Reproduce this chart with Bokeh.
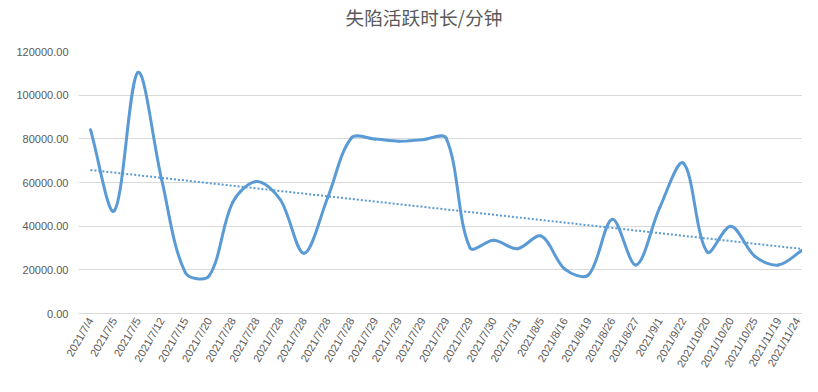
import numpy as np
from bokeh.plotting import figure
from bokeh.models import Range1d, FixedTicker, NumeralTickFormatter, Title
from bokeh.embed import file_html
from bokeh.resources import INLINE

dates = ["2021/7/4", "2021/7/5", "2021/7/5", "2021/7/12", "2021/7/15", "2021/7/20",
         "2021/7/28", "2021/7/28", "2021/7/28", "2021/7/28", "2021/7/28", "2021/7/28",
         "2021/7/29", "2021/7/29", "2021/7/29", "2021/7/29", "2021/7/29",
         "2021/7/30", "2021/7/31", "2021/8/5", "2021/8/16", "2021/8/19", "2021/8/26",
         "2021/8/27", "2021/9/1", "2021/9/22", "2021/10/20", "2021/10/20", "2021/10/25",
         "2021/11/19", "2021/11/24"]
minutes = [84200, 47000, 110400, 61400, 18700, 17200, 51000, 60500, 52200, 27600,
           53000, 80400, 79900, 78900, 79600, 80200, 30100, 33500, 29700, 35500,
           20300, 17700, 43100, 22200, 48500, 68900, 28200, 40000, 26300, 22200, 28900]
y_ticks = [0, 20000, 40000, 60000, 80000, 100000, 120000]
title_text = "失陷活跃时长/分钟"

n = len(minutes)
xs = np.arange(n, dtype=float)
ys = np.array(minutes, dtype=float)

W, H = 802, 376
LEFT, TOP, BOTTOM = 78, 51, 63
x_lo, x_hi = -0.505, 30.02
y_lo, y_hi = 0, 120000
FRAME_H = H - TOP - BOTTOM

p = figure(width=W, height=H, output_backend="svg", toolbar_location=None,
           x_range=Range1d(x_lo, x_hi), y_range=Range1d(y_lo, y_hi),
           min_border_left=LEFT, min_border_right=0, min_border_top=TOP,
           min_border_bottom=BOTTOM)
p.outline_line_color = None
p.background_fill_color = "white"
p.border_fill_color = "white"

# spacer panel between frame and title, then the title itself (further out)
p.add_layout(Title(text=" ", text_font_size="10px", standoff=7), "above")
p.add_layout(Title(text=title_text, text_font="Noto Sans CJK SC",
                   text_font_size="18.7px", text_font_style="normal",
                   text_color="#595959", align="left", offset=267,
                   vertical_align="top", standoff=0), "above")

# smoothed line, Excel-like: Bezier segments whose control arms are scaled by
# the relative on-screen lengths of neighbouring segments (limits overshoot)
sx = (W - LEFT) / (x_hi - x_lo)
sy = FRAME_H / (y_hi - y_lo)
pts = np.column_stack([xs, ys])
pad = np.vstack([pts[:1], pts, pts[-1:]])
P0, P1, P2, P3 = pad[:-3], pad[1:-2], pad[2:-1], pad[3:]
scale = np.array([sx, sy])


def dist(a, b):
    return np.hypot(*((b - a) * scale).T)


d01, d12, d23 = dist(P0, P1), dist(P1, P2), dist(P2, P3)
f1 = d12 / (d01 + d12) / 3.0
f2 = d12 / (d12 + d23) / 3.0
C1 = P1 + (P2 - P0) * f1[:, None]
C2 = P2 - (P3 - P1) * f2[:, None]
p.bezier(x0=P1[:, 0], y0=P1[:, 1], x1=P2[:, 0], y1=P2[:, 1],
         cx0=C1[:, 0], cy0=C1[:, 1], cx1=C2[:, 0], cy1=C2[:, 1],
         line_color="#5B9BD5", line_width=3, line_cap="round")

# linear trendline
k, b = np.polyfit(xs, ys, 1)
tx = np.array([xs[0], xs[-1]])
p.line(tx, k * tx + b, line_color="#5B9BD5", line_width=2, line_dash="2 2")

p.xaxis.ticker = FixedTicker(ticks=list(range(n)))
p.xaxis.major_label_overrides = {i: d for i, d in enumerate(dates)}
p.xaxis.major_label_orientation = np.pi / 3
p.xaxis.major_tick_line_color = None
p.xaxis.major_tick_out = 0
p.xaxis.major_tick_in = 0
p.xaxis.minor_tick_line_color = None
p.xaxis.minor_tick_out = 0
p.xaxis.axis_line_color = "#D9D9D9"
p.xaxis.major_label_text_font = "Liberation Sans"
p.xaxis.major_label_text_font_size = "11px"
p.xaxis.major_label_text_color = "#595959"
p.xaxis.major_label_standoff = 5

p.yaxis.ticker = FixedTicker(ticks=y_ticks)
p.yaxis.formatter = NumeralTickFormatter(format="0.00")
p.yaxis.axis_line_color = None
p.yaxis.major_tick_line_color = None
p.yaxis.major_tick_out = 0
p.yaxis.major_tick_in = 0
p.yaxis.minor_tick_line_color = None
p.yaxis.minor_tick_out = 0
p.yaxis.major_label_text_font = "Liberation Sans"
p.yaxis.major_label_text_font_size = "11px"
p.yaxis.major_label_text_color = "#595959"
p.yaxis.major_label_standoff = 10

p.xgrid.grid_line_color = None
p.ygrid.ticker = FixedTicker(ticks=y_ticks)
p.ygrid.grid_line_color = "#D9D9D9"
p.ygrid.grid_line_width = 1

open("out.html", "w").write(file_html(p, INLINE))
